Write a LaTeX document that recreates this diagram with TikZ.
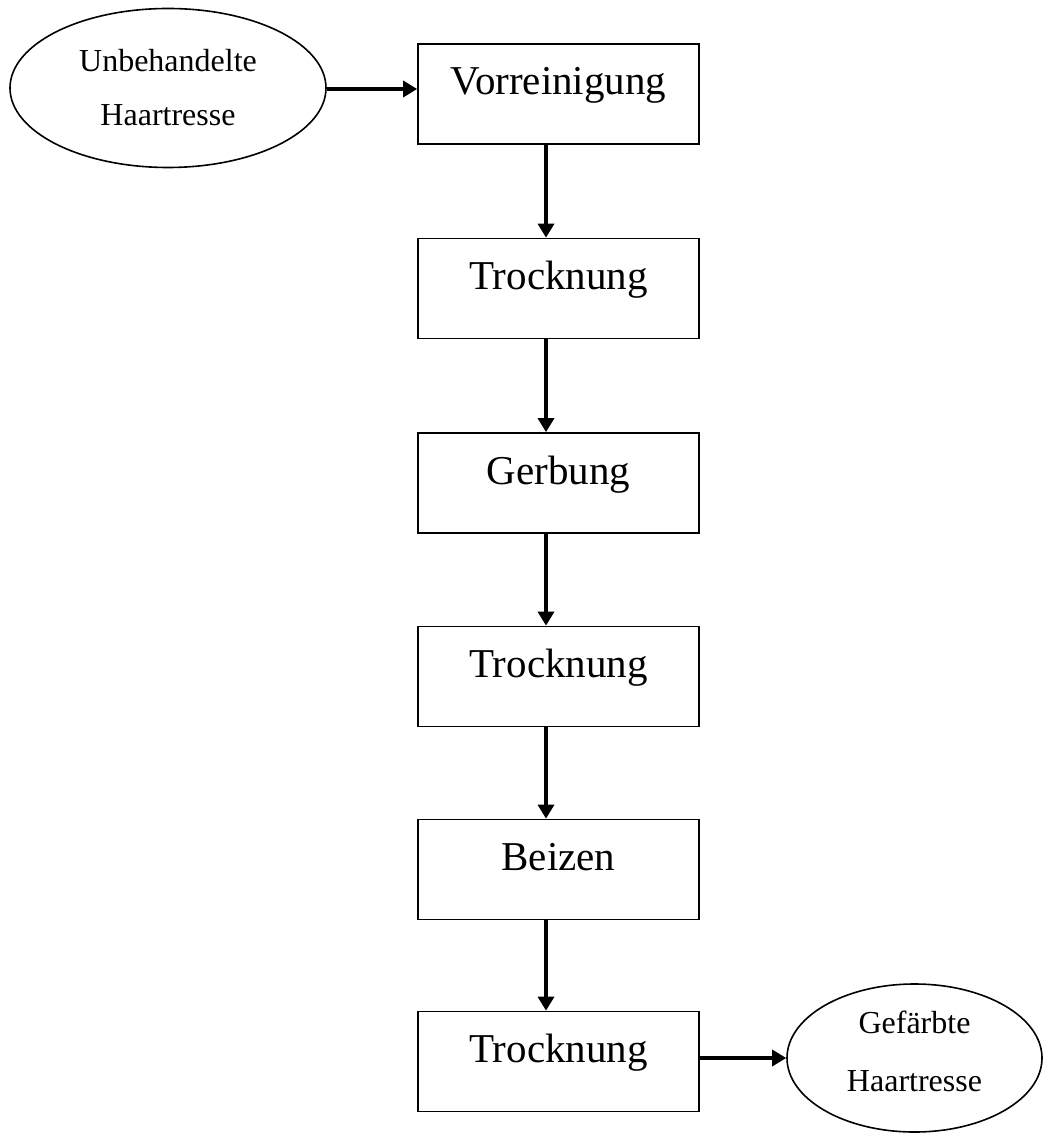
\documentclass[tikz,border=0pt]{standalone}
\usepackage{fontspec}
\setmainfont{Liberation Serif}
\usetikzlibrary{arrows.meta,shapes.geometric}

\begin{document}
\begin{tikzpicture}[x=0.5pt, y=-0.5pt,
    stepbox/.style={draw, line width=0.85pt, rectangle, inner sep=0pt,
      minimum width=140.5pt, text height=25.5pt, text depth=24.5pt,
      font=\fontsize{20.5pt}{24pt}\selectfont},
    endoval/.style={draw, line width=0.8pt, ellipse, inner sep=0pt, align=center,
      font=\fontsize{16pt}{27pt}\selectfont},
    flow/.style={line width=1.7pt, -{Triangle[width=8pt,length=7pt]}}]
    \useasboundingbox (0,0) rectangle (1043,1133);

    \node[endoval, minimum width=158pt, minimum height=79.5pt]
        (raw) at (168,88) {Unbehandelte\\Haartresse};

    \node[stepbox] (pre)   at (558.5,94)   {Vorreinigung};
    \node[stepbox] (dry1)  at (558.5,288.5) {Trocknung};
    \node[stepbox] (tan)   at (558.5,483)  {Gerbung};
    \node[stepbox] (dry2)  at (558.5,676.5) {Trocknung};
    \node[stepbox] (stain) at (558.5,869.5) {Beizen};
    \node[stepbox] (dry3)  at (558.5,1061.5) {Trocknung};

    \node[endoval, minimum width=127.5pt, minimum height=74pt, text depth=7pt,
        font=\fontsize{16pt}{29pt}\selectfont]
        (dyed) at (914.5,1058) {Gefärbte\\Haartresse};

    \draw[flow] (raw.east |- 0,89) -- (pre.west |- 0,89);
    \foreach \a/\b in {pre/dry1, dry1/tan, tan/dry2, dry2/stain, stain/dry3}
      \draw[flow] ([xshift=-6.25pt]\a.south) -- ([xshift=-6.25pt]\b.north);
    \draw[flow] (dry3.east |- dyed.west) -- (dyed.west);
\end{tikzpicture}
\end{document}
